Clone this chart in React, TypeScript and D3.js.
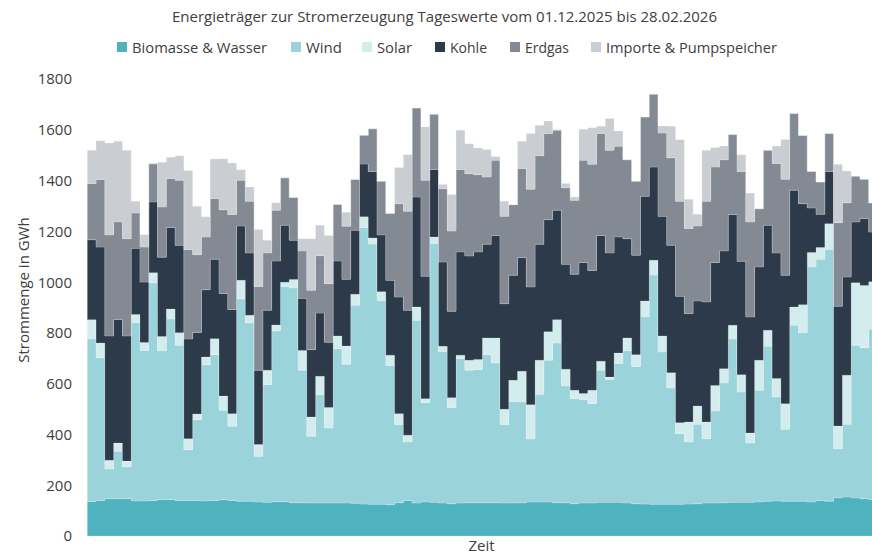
import React from "react";
import * as d3 from "d3";

// Tageswerte 01.12.2025 - 28.02.2026 (GWh)
const days = d3.timeDay.range(new Date(2025, 11, 1), new Date(2026, 2, 1));

const biomasse = [136, 140, 147, 147, 147, 138, 138, 140, 144, 144, 140, 140, 140, 138, 140, 143, 140, 137, 137, 134,
  133, 135, 135, 131, 131, 130, 130, 130, 130, 130, 129, 126, 125, 125, 123, 131, 140, 130, 134, 133,
  130, 127, 130, 131, 131, 131, 131, 130, 130, 131, 134, 134, 134, 131, 131, 127, 130, 130, 133, 133,
  133, 130, 127, 126, 125, 125, 125, 125, 126, 127, 130, 130, 131, 133, 133, 133, 134, 137, 138, 137,
  137, 137, 134, 140, 137, 151, 154, 150, 147, 144];
const wind = [640, 562, 117, 187, 125, 702, 593, 857, 585, 711, 611, 200, 318, 536, 574, 352, 292, 797, 702, 180,
  463, 673, 848, 846, 522, 263, 427, 295, 608, 546, 780, 1089, 1025, 803, 549, 308, 230, 720, 391, 1019,
  597, 379, 569, 522, 524, 583, 550, 309, 400, 397, 248, 424, 558, 629, 460, 414, 408, 391, 520, 483,
  546, 601, 541, 737, 903, 600, 458, 278, 244, 313, 253, 362, 472, 643, 434, 233, 440, 610, 410, 283,
  693, 663, 926, 950, 992, 193, 286, 601, 594, 670];
const solar = [76, 58, 34, 32, 23, 32, 31, 40, 57, 39, 50, 43, 23, 31, 63, 56, 50, 73, 30, 46,
  57, 23, 16, 33, 78, 76, 72, 81, 50, 72, 43, 42, 24, 34, 40, 43, 27, 52, 16, 26,
  20, 39, 13, 39, 40, 66, 99, 60, 83, 121, 135, 134, 112, 92, 66, 33, 23, 53, 35, 10,
  42, 49, 46, 63, 58, 63, 60, 43, 79, 72, 66, 101, 56, 54, 68, 40, 118, 63, 72, 101,
  72, 111, 57, 46, 101, 89, 193, 246, 246, 187];
const kohle = [315, 378, 490, 487, 493, 261, 238, 279, 312, 321, 344, 393, 321, 265, 313, 404, 410, 214, 246, 293,
  236, 252, 225, 155, 205, 265, 249, 257, 295, 263, 252, 208, 262, 224, 295, 459, 492, 433, 482, 266,
  332, 340, 407, 411, 424, 369, 404, 416, 414, 447, 464, 457, 442, 431, 413, 457, 516, 472, 496, 489,
  457, 391, 392, 412, 367, 471, 502, 498, 427, 414, 473, 484, 464, 436, 447, 457, 368, 414, 495, 506,
  460, 398, 175, 131, 206, 472, 387, 240, 263, 196];
const erdgas = [221, 266, 398, 384, 383, 139, 138, 149, 198, 193, 256, 352, 306, 208, 239, 330, 374, 180, 203, 330,
  226, 200, 186, 168, 187, 234, 226, 231, 223, 209, 200, 113, 168, 211, 263, 368, 390, 351, 378, 217,
  289, 316, 325, 324, 304, 265, 296, 344, 278, 351, 385, 349, 339, 315, 302, 291, 403, 418, 401, 404,
  357, 311, 291, 312, 287, 328, 345, 374, 335, 295, 396, 376, 359, 315, 354, 374, 229, 295, 352, 378,
  302, 268, 144, 127, 149, 329, 293, 180, 155, 115];
const importe = [131, 153, 362, 318, 348, 46, 49, 3, 176, 84, 97, 312, 191, 79, 156, 201, 203, 42, 57, 224,
  50, 30, 2, 0, 48, 203, 120, 190, 0, 55, 0, 0, 0, 0, 0, 142, 223, 0, 210, 0,
  16, 144, 154, 118, 105, 108, 15, 59, 0, 108, 219, 120, 50, 3, 16, 13, 122, 144, 29, 125,
  60, 0, 0, 0, 0, 28, 124, 243, 115, 46, 201, 77, 54, 0, 66, 114, 0, 0, 69, 157,
  0, 0, 0, 0, 0, 230, 125, 0, 0, 0];

const seriesNames = ["Biomasse & Wasser", "Wind", "Solar", "Kohle", "Erdgas", "Importe & Pumpspeicher"];
const seriesValues = [biomasse, wind, solar, kohle, erdgas, importe];
const seriesColors = ["#4fb3bf", "#9ad3da", "#d3ecee", "#2c3a4a", "#838a93", "#cacdd2"];
const yTicks = [0, 200, 400, 600, 800, 1000, 1200, 1400, 1600, 1800];

const titleText = "Energieträger zur Stromerzeugung Tageswerte vom 01.12.2025 bis 28.02.2026";
const font = "'Open Sans', sans-serif";

export default function App() {
  const width = 872;
  const height = 555;
  const colW = 8.78;
  const left = 87.3;

  const x = d3.scaleLinear().domain([0, days.length]).range([left, left + colW * days.length]);
  const y = d3.scaleLinear().domain([0, 1800]).range([536, 79]);

  const rows = days.map((d, i) => {
    const r: any = { i };
    seriesNames.forEach((n, k) => (r[n] = seriesValues[k][i]));
    return r;
  });
  // extra point so the last step gets its full width
  const rowsExt = [...rows, { ...rows[rows.length - 1], i: days.length }];

  const stacked = d3.stack<any>().keys(seriesNames)(rowsExt);
  const area = d3
    .area<any>()
    .x((d) => x(d.data.i))
    .y0((d) => y(d[0]))
    .y1((d) => y(d[1]))
    .curve(d3.curveStepAfter);

  // legend layout
  const legendX = [117, 291, 362, 435, 510, 591];
  const legendW = [135, 36, 35, 37, 44, 171];

  return (
    <div style={{ position: "absolute", left: 0, top: 0 }}>
      <svg width={width} height={height} style={{ display: "block", background: "#fff" }}>
        <g>
          {stacked.map((s, k) => (
            <path
              key={s.key}
              d={area(s) || ""}
              fill={seriesColors[k]}
              stroke="rgba(255,255,255,0.35)"
              strokeWidth={0.5}
            />
          ))}
        </g>

        <g fontFamily={font} fontSize={15} fill="#404040">
          {yTicks.map((t) => (
            <text key={t} x={72} y={y(t)} dy="0.36em" textAnchor="end">
              {t}
            </text>
          ))}
        </g>

        <text
          x={444.5}
          y={22}
          textAnchor="middle"
          fontFamily={font}
          fontSize={14}
          fill="#404040"
          textLength={545}
          lengthAdjust="spacingAndGlyphs"
        >
          {titleText}
        </text>

        <g fontFamily={font} fontSize={14} fill="#404040">
          {seriesNames.map((n, k) => (
            <g key={n}>
              <rect x={legendX[k]} y={42} width={10} height={10} fill={seriesColors[k]} />
              <text x={legendX[k] + 15} y={53} textLength={legendW[k]} lengthAdjust="spacingAndGlyphs">
                {n}
              </text>
            </g>
          ))}
        </g>

        <text x={481.5} y={551} textAnchor="middle" fontFamily={font} fontSize={15} fill="#404040">
          Zeit
        </text>
        <text
          transform="translate(29,290) rotate(-90)"
          textAnchor="middle"
          fontFamily={font}
          fontSize={15}
          fill="#404040"
        >
          Strommenge in GWh
        </text>
      </svg>
    </div>
  );
}
